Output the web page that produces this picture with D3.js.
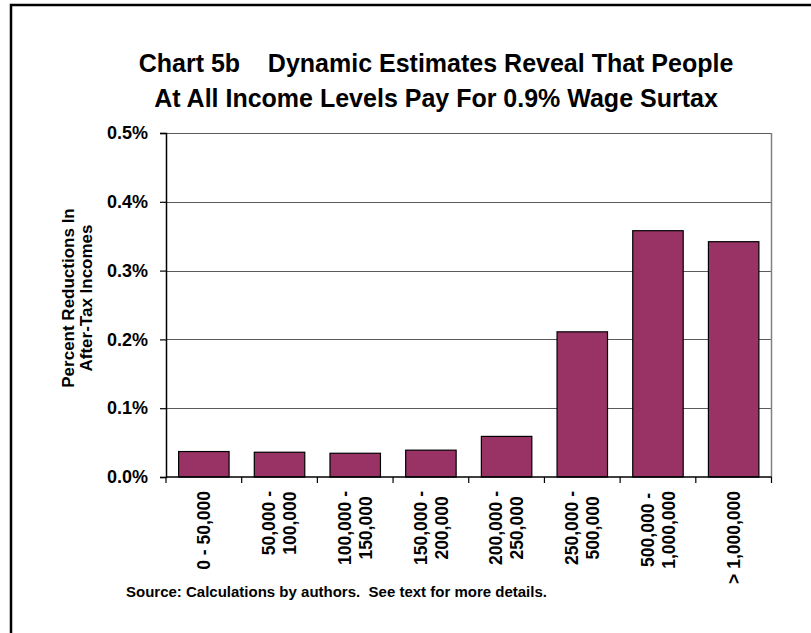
<!DOCTYPE html>
<html>
<head>
<meta charset="utf-8">
<script src="https://cdn.jsdelivr.net/npm/d3@7"></script>
<style>
  html, body { margin: 0; padding: 0; background: #fff; }
  svg { display: block; }
  text { font-family: "Liberation Sans", Arial, sans-serif; font-weight: bold; fill: #000; }
</style>
</head>
<body>
<svg id="chart" width="811" height="633"></svg>
<script>
// ---- data ----
const categories = [
  ["0 - 50,000"],
  ["50,000 -", "100,000"],
  ["100,000 -", "150,000"],
  ["150,000 -", "200,000"],
  ["200,000 -", "250,000"],
  ["250,000 -", "500,000"],
  ["500,000 -", "1,000,000"],
  ["> 1,000,000"]
];
const values = [0.037, 0.036, 0.0345, 0.039, 0.059, 0.211, 0.358, 0.342]; // percent
const yTicks = [0, 0.1, 0.2, 0.3, 0.4, 0.5];
const titleLines = ["Chart 5b    Dynamic Estimates Reveal That People", "At All Income Levels Pay For 0.9% Wage Surtax"];
const yTitleLines = ["Percent Reductions In", "After-Tax Incomes"];
const sourceText = "Source: Calculations by authors.  See text for more details.";

// ---- layout ----
const W = 811, H = 633;
const plot = { left: 166, right: 771.5, top: 133, bottom: 477 };
const svg = d3.select("#chart");
svg.append("rect").attr("width", W).attr("height", H).attr("fill", "#fff");

// outer frame (clipped at right / bottom)
svg.append("rect").attr("x", 11).attr("y", 5).attr("width", 900).attr("height", 900)
  .attr("fill", "none").attr("stroke", "#000").attr("stroke-width", 2.5);

const x = d3.scaleBand().domain(d3.range(categories.length))
  .range([plot.left, plot.right]).paddingInner(1/3).paddingOuter(1/6);
const y = d3.scaleLinear().domain([0, 0.5]).range([plot.bottom, plot.top]);

// gridlines
svg.append("g").selectAll("line").data(yTicks.filter(d => d > 0)).join("line")
  .attr("x1", plot.left).attr("x2", plot.right)
  .attr("y1", d => Math.round(y(d)) + 0.5).attr("y2", d => Math.round(y(d)) + 0.5)
  .attr("stroke", "#5a5a5a").attr("stroke-width", 1.2);

// right border of plot area
svg.append("line").attr("x1", plot.right).attr("x2", plot.right)
  .attr("y1", plot.top).attr("y2", plot.bottom)
  .attr("stroke", "#808080").attr("stroke-width", 1.5);

// bars
svg.append("g").selectAll("rect").data(values).join("rect")
  .attr("x", (d, i) => x(i)).attr("width", x.bandwidth())
  .attr("y", d => y(d)).attr("height", d => y(0) - y(d))
  .attr("fill", "#993366").attr("stroke", "#000").attr("stroke-width", 1.2);

// y axis
const yAxis = svg.append("g").attr("transform", `translate(${plot.left},0)`)
  .call(d3.axisLeft(y).tickValues(yTicks).tickSize(6).tickPadding(12)
    .tickFormat(d => d3.format(".1f")(d) + "%"));
yAxis.select(".domain").attr("stroke", "#000").attr("stroke-width", 1.5);
yAxis.selectAll(".tick line").attr("stroke", "#000").attr("stroke-width", 1.2);
yAxis.selectAll(".tick text").attr("font-size", 18).attr("font-family", "Liberation Sans, Arial, sans-serif").attr("font-weight", "bold");

// x axis baseline and ticks at category boundaries
const bounds = d3.range(categories.length + 1).map(i => plot.left + i * (plot.right - plot.left) / categories.length);
svg.append("line").attr("x1", plot.left).attr("x2", plot.right)
  .attr("y1", plot.bottom).attr("y2", plot.bottom)
  .attr("stroke", "#000").attr("stroke-width", 1.5);
svg.append("g").selectAll("line").data(bounds).join("line")
  .attr("x1", d => d).attr("x2", d => d)
  .attr("y1", plot.bottom).attr("y2", plot.bottom + 6)
  .attr("stroke", "#000").attr("stroke-width", 1.2);

// x labels (rotated, block aligned to the top, lines centred)
const labelTop = 491;
const lineGap = 21;
const xFont = 17.5;
const xl = svg.append("g");
categories.forEach((lines, i) => {
  const cx = x(i) + x.bandwidth() / 2;
  const g = xl.append("g");
  const texts = lines.map((t, j) => {
    const off = (j - (lines.length - 1) / 2) * lineGap;
    return g.append("text").attr("font-size", xFont).attr("text-anchor", "middle").text(t)
      .attr("data-off", off);
  });
  const maxW = d3.max(texts, t => t.node().getComputedTextLength());
  texts.forEach(t => {
    const off = +t.attr("data-off");
    const ty = labelTop + maxW / 2;
    t.attr("transform", `translate(${cx + off + 0.36 * xFont},${ty}) rotate(-90)`);
  });
});

// title
svg.append("g").selectAll("text").data(titleLines).join("text")
  .attr("x", 436).attr("y", (d, i) => 72 + i * 35)
  .attr("text-anchor", "middle").attr("font-size", 25)
  .style("white-space", "pre").attr("xml:space", "preserve")
  .text(d => d);

// y title
svg.append("g").selectAll("text").data(yTitleLines).join("text")
  .attr("text-anchor", "middle").attr("font-size", 17)
  .attr("transform", (d, i) => `translate(${74 + i * 18},298) rotate(-90)`)
  .text(d => d);

// source
svg.append("text").attr("x", 126).attr("y", 597).attr("font-size", 15)
  .style("white-space", "pre").attr("xml:space", "preserve")
  .text(sourceText);
</script>
</body>
</html>
